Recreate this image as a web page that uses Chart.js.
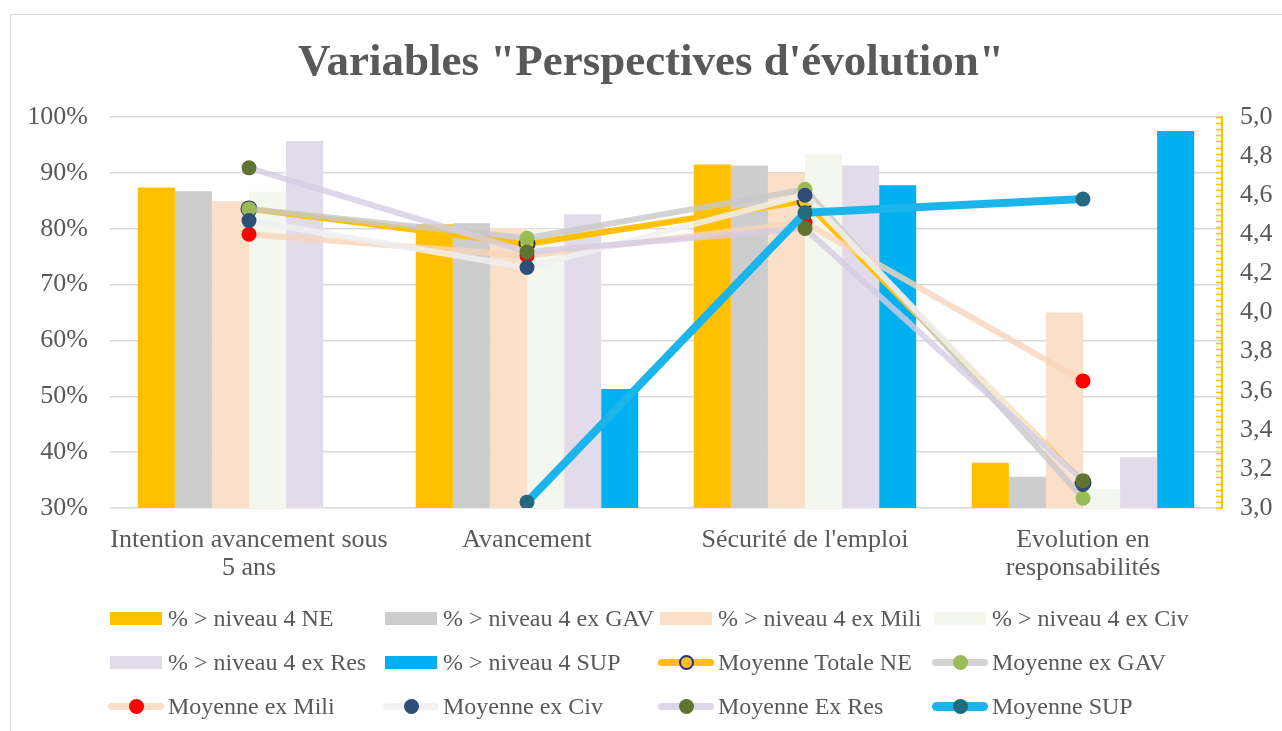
<!DOCTYPE html>
<html><head><meta charset="utf-8">
<script src="https://cdn.jsdelivr.net/npm/chart.js@4.4.1/dist/chart.umd.min.js"></script>
<style>
html,body{margin:0;padding:0;width:1282px;height:731px;overflow:hidden;background:#fff;font-family:'Liberation Serif',serif;color:#595959}
#frame{position:absolute;left:10px;top:14px;width:1400px;height:800px;border:1.5px solid #D9D9D9;box-sizing:border-box}
#title{position:absolute;left:0;top:38px;width:1302px;text-align:center;font-weight:bold;font-size:45px;line-height:45px;white-space:nowrap;color:#595959}
#chartWrap{position:absolute;left:0;top:0;width:1282px;height:731px}
.lg{position:absolute;height:30px;font-size:24px;line-height:30px;white-space:nowrap;color:#595959}
.sw{position:absolute;left:0;top:0;width:52px;height:30px}
.tx{position:absolute;left:58px;top:0}
</style></head>
<body>
<div id="frame"></div>
<div id="chartWrap"><canvas id="c" width="1282" height="731"></canvas></div>
<div id="title">Variables "Perspectives d'évolution"</div>
<div id="legend"></div>
<script>
// ---- Data ----
const categories = [["Intention avancement sous", "5 ans"], "Avancement", "Sécurité de l'emploi", ["Evolution en", "responsabilités"]];

const pctNE   = [87.4, 80.8, 91.5, 38.1];
const pctGAV  = [86.7, 81.0, 91.3, 35.6];
const pctMili = [84.9, 80.1, 90.0, 65.0];
const pctCiv  = [86.6, 80.0, 93.3, 33.4];
const pctRes  = [95.7, 82.6, 91.3, 39.1];
const pctSUP  = [null, 51.3, 87.8, 97.5];

const moyTotNE = [4.53, 4.35, 4.57, 3.13];
const moyGAV   = [4.53, 4.38, 4.63, 3.05];
const moyMili  = [4.40, 4.29, 4.46, 3.65];
const moyCiv   = [4.47, 4.23, 4.60, 3.12];
const moyRes   = [4.74, 4.31, 4.43, 3.14];
const moySUP   = [null, 3.03, 4.51, 4.58];

const barLabels  = ["% > niveau 4 NE", "% > niveau 4 ex GAV", "% > niveau 4 ex Mili", "% > niveau 4 ex Civ", "% > niveau 4 ex Res", "% > niveau 4 SUP"];
const lineLabels = ["Moyenne Totale NE", "Moyenne ex GAV", "Moyenne ex Mili", "Moyenne ex Civ", "Moyenne Ex Res", "Moyenne SUP"];

const leftMin = 30, leftMax = 100, leftStep = 10;
const rightMin = 3, rightMax = 5, rightStep = 0.2, rightMinor = 1/32;

// ---- Styles ----
const barColors = ['#FFC000', '#CDCDCD', '#FADFC9', '#F3F7EE', '#E2DCEA', '#00B0F0'];
const lineColors = ['#FFC000', 'rgba(200,200,200,0.8)', 'rgba(249,212,186,0.8)', 'rgba(240,240,240,0.85)', 'rgba(214,204,228,0.8)', '#1BB5EC'];
const lineWidths = [6, 6, 6, 6, 6, 8];
const markerFill = ['#FFC000', '#9BBB59', '#FF0000', '#2E4D78', '#5F7431', '#24697D'];
const markerBorder = ['#1F3864', '#9BBB59', '#FF0000', '#2E4D78', '#5F7431', '#24697D'];
const markerBW = [2, 0, 0, 0, 0, 0];

const barData = [pctNE, pctGAV, pctMili, pctCiv, pctRes, pctSUP];
const lineData = [moyTotNE, moyGAV, moyMili, moyCiv, moyRes, moySUP];

const datasets = [];
barData.forEach((d, i) => datasets.push({
  type: 'bar', label: barLabels[i], data: d, backgroundColor: barColors[i], borderWidth: 0,
  yAxisID: 'y', categoryPercentage: 0.8, barPercentage: 1.0, order: 100 + i
}));
lineData.forEach((d, i) => datasets.push({
  type: 'line', label: lineLabels[i], data: d, borderColor: lineColors[i], borderWidth: lineWidths[i],
  backgroundColor: markerFill[i], pointBackgroundColor: markerFill[i], pointBorderColor: markerBorder[i],
  pointBorderWidth: markerBW[i], pointRadius: 7.5, pointHoverRadius: 7.5, tension: 0, fill: false,
  spanGaps: false, yAxisID: 'y2', order: 10 - i, borderCapStyle: 'round', borderJoinStyle: 'round'
}));

const minorTicks = {
  id: 'minorTicks',
  afterDatasetsDraw(chart) {
    const s = chart.scales.y2, ctx = chart.ctx;
    ctx.save();
    ctx.strokeStyle = '#FFC000';
    ctx.lineWidth = 1.5;
    for (let v = rightMin; v <= rightMax + 1e-9; v += rightMinor) {
      const y = Math.round(s.getPixelForValue(v)) + 0.5;
      ctx.beginPath(); ctx.moveTo(s.left - 6, y); ctx.lineTo(s.left, y); ctx.stroke();
    }
    ctx.restore();
  }
};

Chart.defaults.font.family = "'Liberation Serif', serif";
Chart.defaults.color = '#595959';

new Chart(document.getElementById('c'), {
  type: 'bar',
  data: { labels: categories, datasets },
  options: {
    responsive: false, animation: false,
    layout: { padding: { top: 117, left: 10, right: 10, bottom: 143 } },
    plugins: { legend: { display: false }, title: { display: false }, tooltip: { enabled: false } },
    scales: {
      x: {
        grid: { display: false, drawTicks: false }, border: { display: false },
        ticks: { font: { size: 26, lineHeight: 1.08 }, color: '#595959', padding: 18, maxRotation: 0, minRotation: 0, autoSkip: false },
        afterFit(s) { s.height = 80; }
      },
      y: {
        position: 'left', min: leftMin, max: leftMax,
        ticks: { stepSize: leftStep, callback: v => v + '%', font: { size: 26 }, color: '#595959', padding: 22 },
        grid: { color: '#D9D9D9', lineWidth: 1.5, drawTicks: false }, border: { display: false },
        afterFit(s) { s.width = 100; }
      },
      y2: {
        position: 'right', min: rightMin, max: rightMax,
        ticks: { stepSize: rightStep, callback: v => v.toFixed(1).replace('.', ','), font: { size: 26 }, color: '#595959', padding: 18 },
        grid: { display: false, drawOnChartArea: false, drawTicks: false },
        border: { display: true, color: '#FFC000', width: 2 },
        afterFit(s) { s.width = 50; }
      }
    }
  },
  plugins: [minorTicks]
});

// ---- HTML legend built from the dataset definitions ----
const colX = [110, 385, 660, 934];
const rowY = [618, 662, 706];
const legend = document.getElementById('legend');
datasets.forEach((ds, k) => {
  const col = k % 4, row = Math.floor(k / 4);
  const item = document.createElement('div');
  item.className = 'lg';
  item.style.left = colX[col] + 'px';
  item.style.top = (rowY[row] - 15) + 'px';
  const sw = document.createElement('div');
  sw.className = 'sw';
  if (ds.type === 'bar') {
    const r = document.createElement('div');
    r.style.cssText = `position:absolute;left:0;top:8.5px;width:52px;height:13px;background:${ds.backgroundColor}`;
    sw.appendChild(r);
  } else {
    const i = k - 6;
    const th = lineWidths[i] + 1;
    const l = document.createElement('div');
    l.style.cssText = `position:absolute;left:-2px;top:${15 - th / 2}px;width:56px;height:${th}px;border-radius:${th / 2}px;background:${lineColors[i]}`;
    const c = document.createElement('div');
    const d = 15;
    c.style.cssText = `position:absolute;left:${26 - d / 2}px;top:${15 - d / 2}px;width:${d}px;height:${d}px;border-radius:50%;box-sizing:border-box;background:${markerFill[i]};border:${markerBW[i]}px solid ${markerBorder[i]}`;
    sw.appendChild(l); sw.appendChild(c);
  }
  const t = document.createElement('span');
  t.className = 'tx';
  t.textContent = ds.label;
  item.appendChild(sw); item.appendChild(t);
  legend.appendChild(item);
});
</script>
</body></html>
